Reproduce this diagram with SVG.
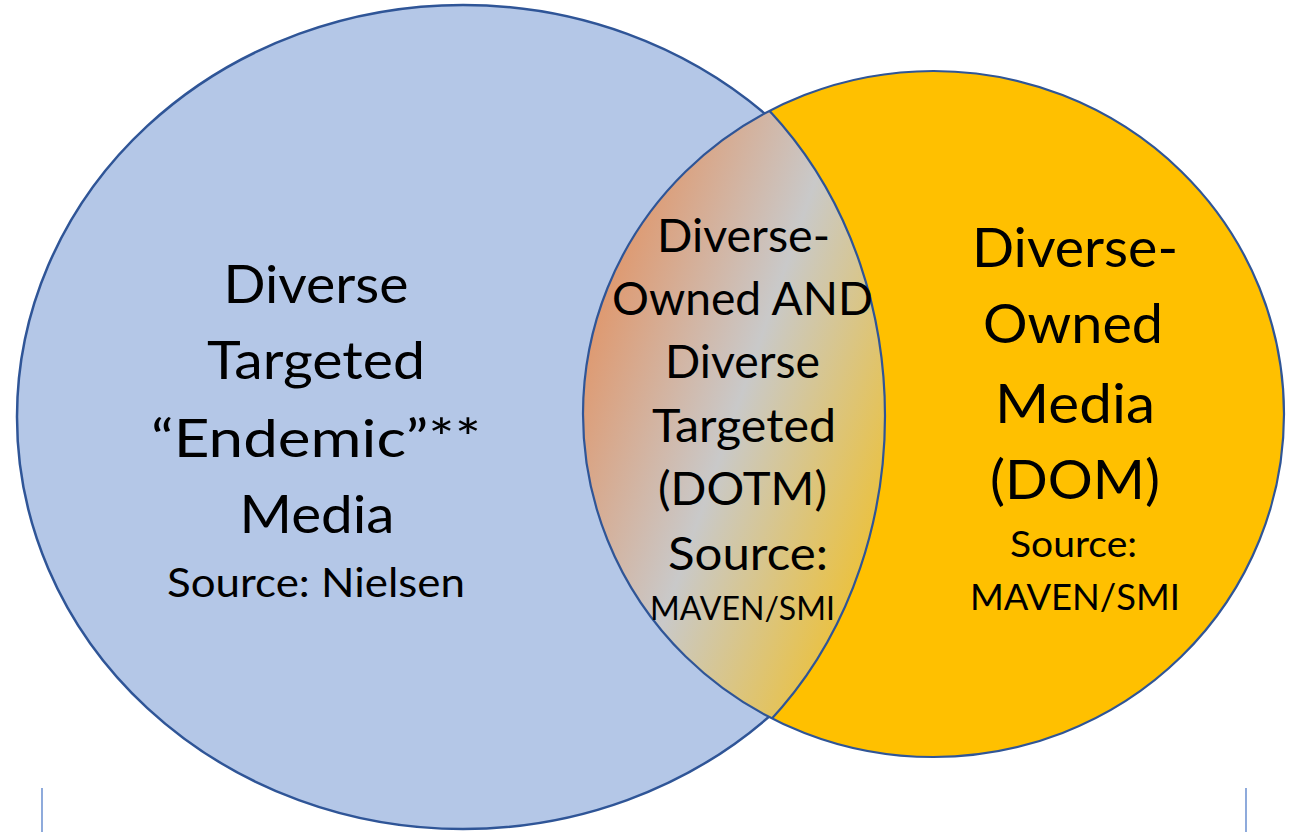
<svg xmlns="http://www.w3.org/2000/svg" width="1297" height="832" viewBox="0 0 1297 832">
  <defs>
    <style>
      .set-outline { stroke: #2F5597; stroke-width: 2.5; }
      .lbl { font-family: Lato, "Noto Sans", sans-serif; fill: #000000; text-anchor: middle; }
      .l-main { font-size: 53px; }
      .l-src { font-size: 41.5px; }
      .c-main { font-size: 46px; }
      .c-src { font-size: 32px; }
      .r-main { font-size: 55px; }
      .r-src { font-size: 37px; }
      .frame { stroke: #4472C4; stroke-width: 1.2; fill: none; }
    </style>
    <!-- diagonal blend used for the overlap of the two sets -->
    <linearGradient id="overlap-fill" gradientUnits="userSpaceOnUse" x1="569" y1="359" x2="899" y2="473">
      <stop offset="0" stop-color="#E0966A"/>
      <stop offset="0.5" stop-color="#C9C9C9"/>
      <stop offset="1" stop-color="#EBC13E"/>
    </linearGradient>
    <!-- right-hand boundary of the overlap region -->
    <clipPath id="overlap-right">
      <ellipse cx="533" cy="416" rx="352" ry="412"/>
    </clipPath>
    <clipPath id="orange-area">
      <ellipse cx="933.5" cy="414" rx="350.5" ry="343"/>
    </clipPath>
  </defs>

  <rect x="0" y="0" width="1297" height="832" fill="#FFFFFF"/>

  <!-- bracket edges at the bottom of the slide -->
  <g id="bottom-frame">
    <line class="frame" x1="42" y1="788" x2="42" y2="832"/>
    <line class="frame" x1="1246" y1="788" x2="1246" y2="832"/>
  </g>

  <!-- left set: diverse targeted media -->
  <g id="set-targeted">
    <ellipse class="set-outline" cx="463" cy="417" rx="446" ry="412" fill="#B4C7E7"/>
  </g>

  <!-- right set: diverse owned media -->
  <g id="set-owned">
    <ellipse cx="933.5" cy="414" rx="350.5" ry="343" fill="#FFC000"/>
  </g>

  <!-- overlap: owned AND targeted -->
  <g id="set-overlap">
    <ellipse cx="933.5" cy="414" rx="350.5" ry="343" fill="url(#overlap-fill)" clip-path="url(#overlap-right)"/>
    <ellipse cx="533" cy="416" rx="352" ry="412" fill="none" stroke="#2F5597" stroke-width="2.2" clip-path="url(#orange-area)"/>
    <ellipse cx="933.5" cy="414" rx="350.5" ry="343" fill="none" stroke="#2F5597" stroke-width="2.2"/>
  </g>

  <g id="label-targeted">
    <text class="lbl l-main" x="316" y="303" textLength="185" lengthAdjust="spacingAndGlyphs">Diverse</text>
    <text class="lbl l-main" x="316" y="379" textLength="218" lengthAdjust="spacingAndGlyphs">Targeted</text>
    <text class="lbl l-main" x="316" y="457" textLength="330" lengthAdjust="spacingAndGlyphs">“Endemic”**</text>
    <text class="lbl l-main" x="317" y="533" textLength="155" lengthAdjust="spacingAndGlyphs">Media</text>
    <text class="lbl l-src" x="316" y="597" textLength="298" lengthAdjust="spacingAndGlyphs">Source: Nielsen</text>
  </g>

  <g id="label-overlap">
    <text class="lbl c-main" x="743.5" y="252" textLength="173" lengthAdjust="spacingAndGlyphs">Diverse-</text>
    <text class="lbl c-main" x="742.5" y="315" textLength="261" lengthAdjust="spacingAndGlyphs">Owned AND</text>
    <text class="lbl c-main" x="742.5" y="378" textLength="155" lengthAdjust="spacingAndGlyphs">Diverse</text>
    <text class="lbl c-main" x="744" y="442" textLength="184" lengthAdjust="spacingAndGlyphs">Targeted</text>
    <text class="lbl c-main" x="742.5" y="505" textLength="169" lengthAdjust="spacingAndGlyphs">(DOTM)</text>
    <text class="lbl c-main" x="748" y="570" textLength="160" lengthAdjust="spacingAndGlyphs">Source:</text>
    <text class="lbl c-src" x="742.5" y="620" textLength="185" lengthAdjust="spacingAndGlyphs">MAVEN/SMI</text>
  </g>

  <g id="label-owned">
    <text class="lbl r-main" x="1075" y="267" textLength="206" lengthAdjust="spacingAndGlyphs">Diverse-</text>
    <text class="lbl r-main" x="1073" y="343" textLength="180" lengthAdjust="spacingAndGlyphs">Owned</text>
    <text class="lbl r-main" x="1075" y="423" textLength="160" lengthAdjust="spacingAndGlyphs">Media</text>
    <text class="lbl r-main" x="1075" y="499" textLength="170" lengthAdjust="spacingAndGlyphs">(DOM)</text>
    <text class="lbl r-src" x="1073.5" y="557" textLength="127" lengthAdjust="spacingAndGlyphs">Source:</text>
    <text class="lbl r-src" x="1075" y="610" textLength="210" lengthAdjust="spacingAndGlyphs">MAVEN/SMI</text>
  </g>
</svg>
